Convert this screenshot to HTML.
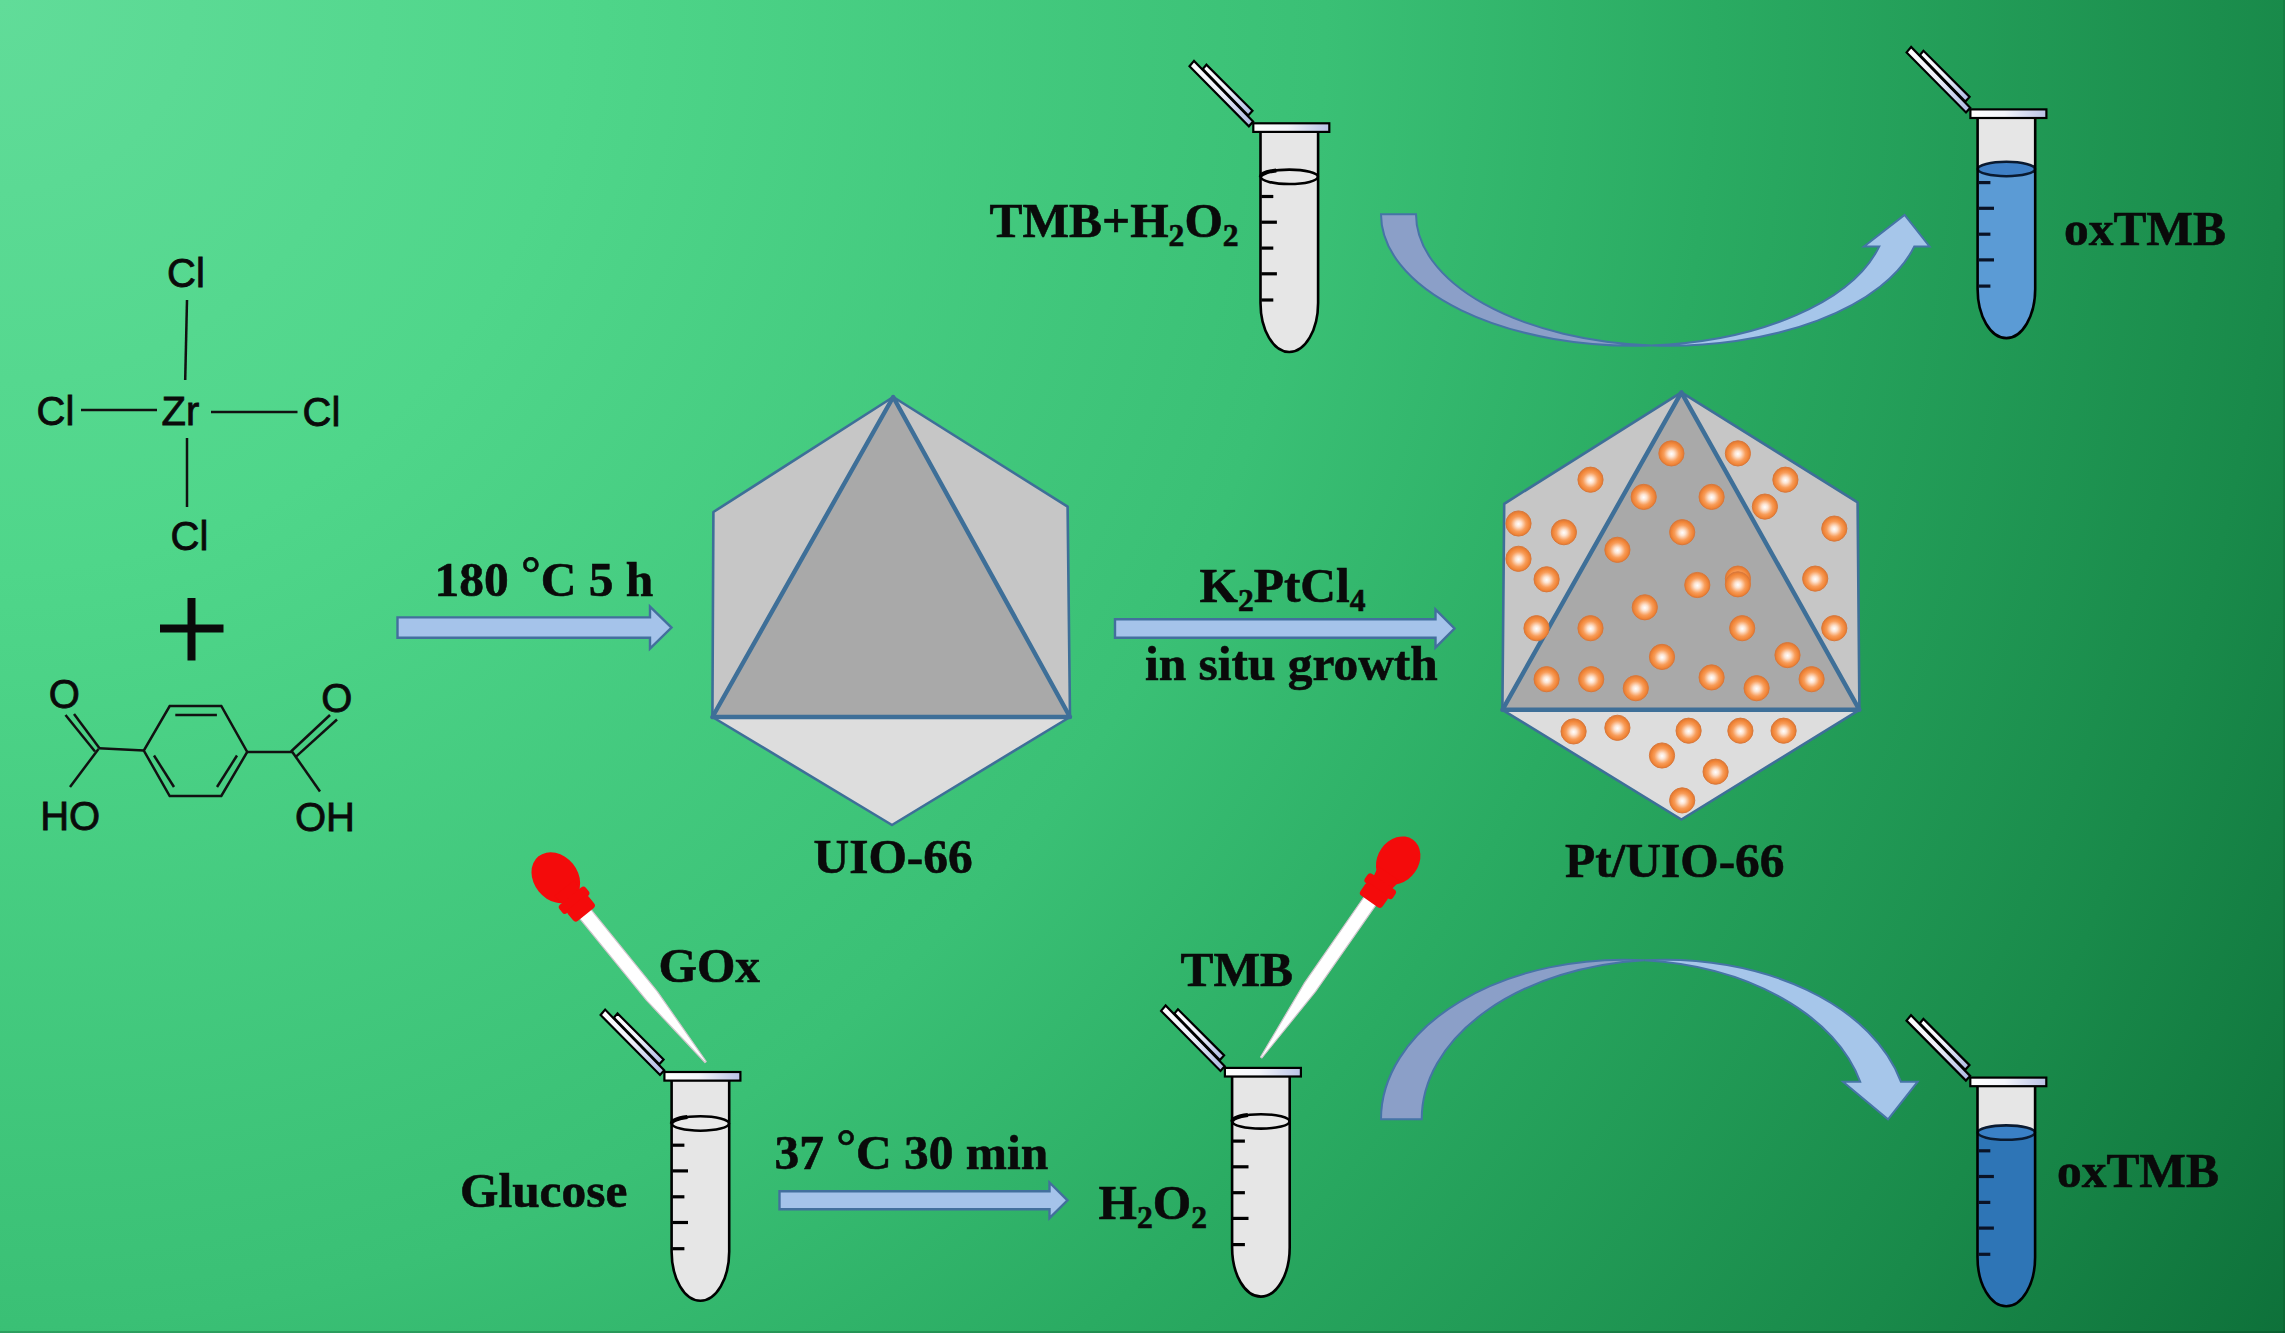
<!DOCTYPE html>
<html><head><meta charset="utf-8"><title>Pt/UIO-66 scheme</title>
<style>
html,body{margin:0;padding:0;background:#fff;}
body{width:2286px;height:1335px;overflow:hidden;position:relative;}
#bg{position:absolute;left:0;top:0;width:2285px;height:1332.5px;
background:radial-gradient(circle 2647px at 0 0,
 #61dc99 0px,#4fd68a 570px,#3ac075 1325px,#2aab62 1715px,#198a4a 2286px,#0e713a 2647px);}
svg{position:absolute;left:0;top:0;}
.sb{font-family:"Liberation Serif",serif;font-weight:bold;fill:#0a0a0a;stroke:#0a0a0a;stroke-width:0.6px;}
.ss{font-family:"Liberation Sans",sans-serif;fill:#0a0a0a;stroke:#0a0a0a;stroke-width:0.8px;}
</style></head><body>
<div id="bg"></div>
<div style="position:absolute;left:0;top:1331px;width:2285px;height:1.5px;background:rgba(0,40,20,0.22)"></div>
<div style="position:absolute;left:2283.2px;top:0;width:1.8px;height:1332.5px;background:rgba(0,40,20,0.12)"></div>
<svg width="2286" height="1335" viewBox="0 0 2286 1335">
<defs>
<radialGradient id="dot" cx="50%" cy="52%" r="50%">
 <stop offset="0" stop-color="#ffffff"/>
 <stop offset="0.24" stop-color="#fde4d2"/>
 <stop offset="0.6" stop-color="#f89d5a"/>
 <stop offset="0.86" stop-color="#f08436"/>
 <stop offset="1" stop-color="#de7a38"/>
</radialGradient>
<linearGradient id="rim" x1="0" y1="0" x2="1" y2="0">
 <stop offset="0" stop-color="#ffffff"/>
 <stop offset="0.45" stop-color="#f4f5fb"/>
 <stop offset="1" stop-color="#b9c2e6"/>
</linearGradient>
<linearGradient id="lid" x1="0" y1="0" x2="1" y2="1">
 <stop offset="0" stop-color="#ffffff"/>
 <stop offset="0.5" stop-color="#eef0fa"/>
 <stop offset="1" stop-color="#aab6e2"/>
</linearGradient>
</defs>
<text class="ss" x="186" y="287" font-size="40" text-anchor="middle">Cl</text>
<text class="ss" x="55.5" y="425" font-size="40" text-anchor="middle">Cl</text>
<text class="ss" x="180.5" y="425" font-size="40" text-anchor="middle">Zr</text>
<text class="ss" x="321.5" y="426" font-size="40" text-anchor="middle">Cl</text>
<text class="ss" x="189.5" y="550" font-size="40" text-anchor="middle">Cl</text>
<line x1="187" y1="300" x2="185.2" y2="380" stroke="#111" stroke-width="2.5" stroke-linecap="butt"/>
<line x1="81" y1="410" x2="157" y2="410" stroke="#111" stroke-width="2.5" stroke-linecap="butt"/>
<line x1="211" y1="412" x2="297.5" y2="412" stroke="#111" stroke-width="2.5" stroke-linecap="butt"/>
<line x1="187" y1="438" x2="187" y2="507" stroke="#111" stroke-width="2.5" stroke-linecap="butt"/>
<rect x="160" y="624.5" width="63.5" height="8" fill="#0a0a0a"/>
<rect x="187.5" y="598" width="8" height="62.5" fill="#0a0a0a"/>
<polygon points="169.7,706 221.3,706 247.2,752 221.3,796 169.7,796 143.8,750.6" fill="none" stroke="#111" stroke-width="2.5" stroke-linejoin="miter"/>
<line x1="175.3" y1="715" x2="216.9" y2="715" stroke="#111" stroke-width="2.5" stroke-linecap="butt"/>
<line x1="154" y1="755.5" x2="174" y2="787" stroke="#111" stroke-width="2.5" stroke-linecap="butt"/>
<line x1="237" y1="755.5" x2="217" y2="787" stroke="#111" stroke-width="2.5" stroke-linecap="butt"/>
<line x1="143.8" y1="750.6" x2="98.9" y2="748.3" stroke="#111" stroke-width="2.5" stroke-linecap="butt"/>
<line x1="99.5" y1="748.3" x2="74" y2="714" stroke="#111" stroke-width="2.5" stroke-linecap="butt"/>
<line x1="95" y1="751.5" x2="65.5" y2="715" stroke="#111" stroke-width="2.5" stroke-linecap="butt"/>
<line x1="98.5" y1="749" x2="70" y2="787" stroke="#111" stroke-width="2.5" stroke-linecap="butt"/>
<line x1="247.2" y1="752" x2="292.5" y2="752" stroke="#111" stroke-width="2.5" stroke-linecap="butt"/>
<line x1="291" y1="751.5" x2="330" y2="715" stroke="#111" stroke-width="2.5" stroke-linecap="butt"/>
<line x1="296" y1="756.6" x2="337" y2="719.5" stroke="#111" stroke-width="2.5" stroke-linecap="butt"/>
<line x1="292" y1="751.5" x2="320" y2="791.5" stroke="#111" stroke-width="2.5" stroke-linecap="butt"/>
<text class="ss" x="64.2" y="708" font-size="40" text-anchor="middle">O</text>
<text class="ss" x="336.8" y="711.5" font-size="40" text-anchor="middle">O</text>
<text class="ss" x="70.2" y="829.5" font-size="40" text-anchor="middle">HO</text>
<text class="ss" x="325" y="830.5" font-size="40" text-anchor="middle">OH</text>
<polygon points="397.5,617.4 650,617.4 650,606.6 671.5,627.6 650,648.6 650,637.8000000000001 397.5,637.8000000000001" fill="#a5c3ea" stroke="#436f9d" stroke-width="2.4" stroke-linejoin="miter"/>
<polygon points="1115,619.3 1435.5,619.3 1435.5,609.5 1454.5,628.5 1435.5,647.5 1435.5,637.7 1115,637.7" fill="#a5c3ea" stroke="#436f9d" stroke-width="2.4" stroke-linejoin="miter"/>
<polygon points="779.5,1191.3 1049.5,1191.3 1049.5,1182.5 1067.5,1200.3 1049.5,1218.1 1049.5,1209.3 779.5,1209.3" fill="#a5c3ea" stroke="#436f9d" stroke-width="2.4" stroke-linejoin="miter"/>
<text class="sb" x="434.6" y="595.8" font-size="49.4" text-anchor="start">180 <tspan dy="-6">°</tspan><tspan dy="6">C 5 h</tspan></text>
<text class="sb" x="813.5" y="873" font-size="49.4" text-anchor="start">UIO-66</text>
<text class="sb" x="1199.5" y="602" font-size="49.4" text-anchor="start">K<tspan font-size="31.6" dy="9">2</tspan><tspan dy="-9">PtCl</tspan><tspan font-size="31.6" dy="9">4</tspan></text>
<text class="sb" x="1145" y="680" font-size="49.4" text-anchor="start">in situ growth</text>
<text class="sb" x="1565" y="877" font-size="49.4" text-anchor="start">Pt/UIO-66</text>
<text class="sb" x="989.5" y="237" font-size="49.4" text-anchor="start">TMB+H<tspan font-size="31.6" dy="9">2</tspan><tspan dy="-9">O</tspan><tspan font-size="31.6" dy="9">2</tspan></text>
<text class="sb" x="2064" y="244.7" font-size="49.4" text-anchor="start">oxTMB</text>
<text class="sb" x="2057" y="1187" font-size="49.4" text-anchor="start">oxTMB</text>
<text class="sb" x="658.5" y="982" font-size="49.4" text-anchor="start">GOx</text>
<text class="sb" x="460" y="1207" font-size="49.4" text-anchor="start">Glucose</text>
<text class="sb" x="774.5" y="1168.5" font-size="49.4" text-anchor="start">37 <tspan dy="-6">°</tspan><tspan dy="6">C 30 min</tspan></text>
<text class="sb" x="1180.5" y="986" font-size="49.4" text-anchor="start">TMB</text>
<text class="sb" x="1098.5" y="1218.5" font-size="49.4" text-anchor="start">H<tspan font-size="31.6" dy="9">2</tspan><tspan dy="-9">O</tspan><tspan font-size="31.6" dy="9">2</tspan></text>
<polygon points="893.2,397 713.4,512 712.4,717" fill="#c6c6c6" stroke="#3e6f98" stroke-width="2.6" stroke-linejoin="round"/>
<polygon points="893.2,397 1067.6,506.6 1070,717" fill="#c6c6c6" stroke="#3e6f98" stroke-width="2.6" stroke-linejoin="round"/>
<polygon points="712.4,717 1070,717 892,825" fill="#dddddd" stroke="#3e6f98" stroke-width="2.6" stroke-linejoin="round"/>
<polygon points="893.2,397 712.4,717 1070,717" fill="#a9a9a9" stroke="#3e6f98" stroke-width="4.4" stroke-linejoin="round"/>
<polygon points="1681.4,392.3 1504.2,503.8 1502.4,709.8" fill="#c6c6c6" stroke="#3e6f98" stroke-width="2.6" stroke-linejoin="round"/>
<polygon points="1681.4,392.3 1857.6,502.3 1859.4,709.8" fill="#c6c6c6" stroke="#3e6f98" stroke-width="2.6" stroke-linejoin="round"/>
<polygon points="1502.4,709.8 1859.4,709.8 1681.4,819.5" fill="#dddddd" stroke="#3e6f98" stroke-width="2.6" stroke-linejoin="round"/>
<polygon points="1681.4,392.3 1502.4,709.8 1859.4,709.8" fill="#a9a9a9" stroke="#3e6f98" stroke-width="4.4" stroke-linejoin="round"/>
<circle cx="1671.4" cy="453.4" r="12.6" fill="url(#dot)" stroke="#d9783a" stroke-width="1"/>
<circle cx="1737.9" cy="453.4" r="12.6" fill="url(#dot)" stroke="#d9783a" stroke-width="1"/>
<circle cx="1590.5" cy="479.7" r="12.6" fill="url(#dot)" stroke="#d9783a" stroke-width="1"/>
<circle cx="1785.4" cy="479.7" r="12.6" fill="url(#dot)" stroke="#d9783a" stroke-width="1"/>
<circle cx="1643.7" cy="496.9" r="12.6" fill="url(#dot)" stroke="#d9783a" stroke-width="1"/>
<circle cx="1711.6" cy="496.9" r="12.6" fill="url(#dot)" stroke="#d9783a" stroke-width="1"/>
<circle cx="1764.9" cy="506.6" r="12.6" fill="url(#dot)" stroke="#d9783a" stroke-width="1"/>
<circle cx="1518.5" cy="523.5" r="12.6" fill="url(#dot)" stroke="#d9783a" stroke-width="1"/>
<circle cx="1563.9" cy="532.2" r="12.6" fill="url(#dot)" stroke="#d9783a" stroke-width="1"/>
<circle cx="1682.2" cy="532.2" r="12.6" fill="url(#dot)" stroke="#d9783a" stroke-width="1"/>
<circle cx="1834.3" cy="528.6" r="12.6" fill="url(#dot)" stroke="#d9783a" stroke-width="1"/>
<circle cx="1617.4" cy="549.8" r="12.6" fill="url(#dot)" stroke="#d9783a" stroke-width="1"/>
<circle cx="1518.5" cy="558.8" r="12.6" fill="url(#dot)" stroke="#d9783a" stroke-width="1"/>
<circle cx="1546.6" cy="579.3" r="12.6" fill="url(#dot)" stroke="#d9783a" stroke-width="1"/>
<circle cx="1697.3" cy="585.0" r="12.6" fill="url(#dot)" stroke="#d9783a" stroke-width="1"/>
<circle cx="1737.9" cy="578.6" r="12.6" fill="url(#dot)" stroke="#d9783a" stroke-width="1"/>
<circle cx="1737.9" cy="584.3" r="12.6" fill="url(#dot)" stroke="#d9783a" stroke-width="1"/>
<circle cx="1815.2" cy="578.6" r="12.6" fill="url(#dot)" stroke="#d9783a" stroke-width="1"/>
<circle cx="1644.8" cy="607.3" r="12.6" fill="url(#dot)" stroke="#d9783a" stroke-width="1"/>
<circle cx="1536.5" cy="628.2" r="12.6" fill="url(#dot)" stroke="#d9783a" stroke-width="1"/>
<circle cx="1590.5" cy="628.2" r="12.6" fill="url(#dot)" stroke="#d9783a" stroke-width="1"/>
<circle cx="1742.2" cy="628.2" r="12.6" fill="url(#dot)" stroke="#d9783a" stroke-width="1"/>
<circle cx="1834.3" cy="628.2" r="12.6" fill="url(#dot)" stroke="#d9783a" stroke-width="1"/>
<circle cx="1662.0" cy="656.9" r="12.6" fill="url(#dot)" stroke="#d9783a" stroke-width="1"/>
<circle cx="1787.5" cy="655.1" r="12.6" fill="url(#dot)" stroke="#d9783a" stroke-width="1"/>
<circle cx="1546.6" cy="679.2" r="12.6" fill="url(#dot)" stroke="#d9783a" stroke-width="1"/>
<circle cx="1591.2" cy="679.2" r="12.6" fill="url(#dot)" stroke="#d9783a" stroke-width="1"/>
<circle cx="1635.8" cy="688.2" r="12.6" fill="url(#dot)" stroke="#d9783a" stroke-width="1"/>
<circle cx="1711.6" cy="677.4" r="12.6" fill="url(#dot)" stroke="#d9783a" stroke-width="1"/>
<circle cx="1756.6" cy="688.2" r="12.6" fill="url(#dot)" stroke="#d9783a" stroke-width="1"/>
<circle cx="1811.6" cy="679.2" r="12.6" fill="url(#dot)" stroke="#d9783a" stroke-width="1"/>
<circle cx="1573.6" cy="731.4" r="12.6" fill="url(#dot)" stroke="#d9783a" stroke-width="1"/>
<circle cx="1617.4" cy="727.8" r="12.6" fill="url(#dot)" stroke="#d9783a" stroke-width="1"/>
<circle cx="1688.6" cy="730.7" r="12.6" fill="url(#dot)" stroke="#d9783a" stroke-width="1"/>
<circle cx="1740.4" cy="730.7" r="12.6" fill="url(#dot)" stroke="#d9783a" stroke-width="1"/>
<circle cx="1783.6" cy="730.7" r="12.6" fill="url(#dot)" stroke="#d9783a" stroke-width="1"/>
<circle cx="1662.0" cy="755.5" r="12.6" fill="url(#dot)" stroke="#d9783a" stroke-width="1"/>
<circle cx="1715.6" cy="771.7" r="12.6" fill="url(#dot)" stroke="#d9783a" stroke-width="1"/>
<circle cx="1682.2" cy="800.4" r="12.6" fill="url(#dot)" stroke="#d9783a" stroke-width="1"/>
<g transform="translate(1252.3,122.3)">
<polygon points="-58.3,-61.4 -62.8,-56 -3.4,4 0.8,-0.7" fill="url(#lid)" stroke="#000" stroke-width="2.2" stroke-linejoin="miter"/>
<polygon points="-45.9,-57.6 -49.5,-53.3 -4.1,-6.8 0.2,-11.5" fill="url(#lid)" stroke="#000" stroke-width="2.2" stroke-linejoin="miter"/>
<path d="M8.2,9 L8.2,180.7 A28.8,49 0 0 0 65.8,180.7 L65.8,9 Z" fill="#e6e6e6" stroke="none"/>
<ellipse cx="37" cy="54.5" rx="28.6" ry="7.2" fill="#e9e9e9" stroke="#000" stroke-width="2.6"/>
<path d="M8.4,54.5 A28.6,7.2 0 0 1 24,48.1" fill="none" stroke="#000" stroke-width="4"/>
<path d="M8.2,9 L8.2,180.7 A28.8,49 0 0 0 65.8,180.7 L65.8,9 Z" fill="none" stroke="#000" stroke-width="2.6"/>
<line x1="9" y1="74.2" x2="21" y2="74.2" stroke="#000" stroke-width="3.2"/>
<line x1="9" y1="99.9" x2="24.6" y2="99.9" stroke="#000" stroke-width="3.2"/>
<line x1="9" y1="125.8" x2="21" y2="125.8" stroke="#000" stroke-width="3.2"/>
<line x1="9" y1="151.5" x2="24.6" y2="151.5" stroke="#000" stroke-width="3.2"/>
<line x1="9" y1="177.7" x2="21" y2="177.7" stroke="#000" stroke-width="3.2"/>
<rect x="1" y="1" width="76" height="8.6" fill="url(#rim)" stroke="#000" stroke-width="2.2"/>
</g>
<g transform="translate(1969.4,108.4)">
<polygon points="-58.3,-61.4 -62.8,-56 -3.4,4 0.8,-0.7" fill="url(#lid)" stroke="#000" stroke-width="2.2" stroke-linejoin="miter"/>
<polygon points="-45.9,-57.6 -49.5,-53.3 -4.1,-6.8 0.2,-11.5" fill="url(#lid)" stroke="#000" stroke-width="2.2" stroke-linejoin="miter"/>
<path d="M8.2,9 L8.2,180.7 A28.8,49 0 0 0 65.8,180.7 L65.8,9 Z" fill="#e6e6e6" stroke="none"/>
<path d="M8.2,60.6 L8.2,180.7 A28.8,49 0 0 0 65.8,180.7 L65.8,60.6 Z" fill="#5b9bd5"/>
<ellipse cx="37" cy="60.6" rx="28.6" ry="7.2" fill="#3f80c6" stroke="#0a1a30" stroke-width="2.6"/>
<path d="M8.2,9 L8.2,180.7 A28.8,49 0 0 0 65.8,180.7 L65.8,9 Z" fill="none" stroke="#000" stroke-width="2.6"/>
<line x1="9" y1="74.2" x2="21" y2="74.2" stroke="#0a1326" stroke-width="3.2"/>
<line x1="9" y1="99.9" x2="24.6" y2="99.9" stroke="#0a1326" stroke-width="3.2"/>
<line x1="9" y1="125.8" x2="21" y2="125.8" stroke="#0a1326" stroke-width="3.2"/>
<line x1="9" y1="151.5" x2="24.6" y2="151.5" stroke="#0a1326" stroke-width="3.2"/>
<line x1="9" y1="177.7" x2="21" y2="177.7" stroke="#0a1326" stroke-width="3.2"/>
<rect x="1" y="1" width="76" height="8.6" fill="url(#rim)" stroke="#000" stroke-width="2.2"/>
</g>
<g transform="translate(663.4,1071)">
<polygon points="-58.3,-61.4 -62.8,-56 -3.4,4 0.8,-0.7" fill="url(#lid)" stroke="#000" stroke-width="2.2" stroke-linejoin="miter"/>
<polygon points="-45.9,-57.6 -49.5,-53.3 -4.1,-6.8 0.2,-11.5" fill="url(#lid)" stroke="#000" stroke-width="2.2" stroke-linejoin="miter"/>
<path d="M8.2,9 L8.2,180.7 A28.8,49 0 0 0 65.8,180.7 L65.8,9 Z" fill="#e6e6e6" stroke="none"/>
<ellipse cx="37" cy="52.5" rx="28.6" ry="7.2" fill="#e9e9e9" stroke="#000" stroke-width="2.6"/>
<path d="M8.4,52.5 A28.6,7.2 0 0 1 24,46.1" fill="none" stroke="#000" stroke-width="4"/>
<path d="M8.2,9 L8.2,180.7 A28.8,49 0 0 0 65.8,180.7 L65.8,9 Z" fill="none" stroke="#000" stroke-width="2.6"/>
<line x1="9" y1="74.2" x2="21" y2="74.2" stroke="#000" stroke-width="3.2"/>
<line x1="9" y1="99.9" x2="24.6" y2="99.9" stroke="#000" stroke-width="3.2"/>
<line x1="9" y1="125.8" x2="21" y2="125.8" stroke="#000" stroke-width="3.2"/>
<line x1="9" y1="151.5" x2="24.6" y2="151.5" stroke="#000" stroke-width="3.2"/>
<line x1="9" y1="177.7" x2="21" y2="177.7" stroke="#000" stroke-width="3.2"/>
<rect x="1" y="1" width="76" height="8.6" fill="url(#rim)" stroke="#000" stroke-width="2.2"/>
</g>
<g transform="translate(1223.9,1066.9)">
<polygon points="-58.3,-61.4 -62.8,-56 -3.4,4 0.8,-0.7" fill="url(#lid)" stroke="#000" stroke-width="2.2" stroke-linejoin="miter"/>
<polygon points="-45.9,-57.6 -49.5,-53.3 -4.1,-6.8 0.2,-11.5" fill="url(#lid)" stroke="#000" stroke-width="2.2" stroke-linejoin="miter"/>
<path d="M8.2,9 L8.2,180.7 A28.8,49 0 0 0 65.8,180.7 L65.8,9 Z" fill="#e6e6e6" stroke="none"/>
<ellipse cx="37" cy="54.5" rx="28.6" ry="7.2" fill="#e9e9e9" stroke="#000" stroke-width="2.6"/>
<path d="M8.4,54.5 A28.6,7.2 0 0 1 24,48.1" fill="none" stroke="#000" stroke-width="4"/>
<path d="M8.2,9 L8.2,180.7 A28.8,49 0 0 0 65.8,180.7 L65.8,9 Z" fill="none" stroke="#000" stroke-width="2.6"/>
<line x1="9" y1="74.2" x2="21" y2="74.2" stroke="#000" stroke-width="3.2"/>
<line x1="9" y1="99.9" x2="24.6" y2="99.9" stroke="#000" stroke-width="3.2"/>
<line x1="9" y1="125.8" x2="21" y2="125.8" stroke="#000" stroke-width="3.2"/>
<line x1="9" y1="151.5" x2="24.6" y2="151.5" stroke="#000" stroke-width="3.2"/>
<line x1="9" y1="177.7" x2="21" y2="177.7" stroke="#000" stroke-width="3.2"/>
<rect x="1" y="1" width="76" height="8.6" fill="url(#rim)" stroke="#000" stroke-width="2.2"/>
</g>
<g transform="translate(1969.3,1076.6)">
<polygon points="-58.3,-61.4 -62.8,-56 -3.4,4 0.8,-0.7" fill="url(#lid)" stroke="#000" stroke-width="2.2" stroke-linejoin="miter"/>
<polygon points="-45.9,-57.6 -49.5,-53.3 -4.1,-6.8 0.2,-11.5" fill="url(#lid)" stroke="#000" stroke-width="2.2" stroke-linejoin="miter"/>
<path d="M8.2,9 L8.2,180.7 A28.8,49 0 0 0 65.8,180.7 L65.8,9 Z" fill="#e6e6e6" stroke="none"/>
<path d="M8.2,56 L8.2,180.7 A28.8,49 0 0 0 65.8,180.7 L65.8,56 Z" fill="#2e75b6"/>
<ellipse cx="37" cy="56" rx="28.6" ry="7.2" fill="#3a80c6" stroke="#0a1a30" stroke-width="2.6"/>
<path d="M8.2,9 L8.2,180.7 A28.8,49 0 0 0 65.8,180.7 L65.8,9 Z" fill="none" stroke="#000" stroke-width="2.6"/>
<line x1="9" y1="74.2" x2="21" y2="74.2" stroke="#0a1326" stroke-width="3.2"/>
<line x1="9" y1="99.9" x2="24.6" y2="99.9" stroke="#0a1326" stroke-width="3.2"/>
<line x1="9" y1="125.8" x2="21" y2="125.8" stroke="#0a1326" stroke-width="3.2"/>
<line x1="9" y1="151.5" x2="24.6" y2="151.5" stroke="#0a1326" stroke-width="3.2"/>
<line x1="9" y1="177.7" x2="21" y2="177.7" stroke="#0a1326" stroke-width="3.2"/>
<rect x="1" y="1" width="76" height="8.6" fill="url(#rim)" stroke="#000" stroke-width="2.2"/>
</g>
<g transform="translate(705.6,1062) rotate(-39.1) scale(1)">
<polygon points="-0.8,0 0.8,0 7,-85 7.2,-192 -7.2,-192 -7,-85" fill="#ffffff" stroke="#cfc6cc" stroke-width="1.2" stroke-linejoin="round"/>
<ellipse cx="0" cy="-237.5" rx="22" ry="27.5" fill="#f40b0b"/>
<polygon points="-13,-224 13,-224 10,-206 -10,-206" fill="#f40b0b"/>
<rect x="-17" y="-214" width="34" height="11" rx="3.5" fill="#f40b0b"/>
<rect x="-13.5" y="-205" width="27" height="15" rx="3.5" fill="#f40b0b"/>
</g>
<g transform="translate(1261.2,1057.5) rotate(34.8) scale(1)">
<polygon points="-0.8,0 0.8,0 7,-85 7.2,-192 -7.2,-192 -7,-85" fill="#ffffff" stroke="#cfc6cc" stroke-width="1.2" stroke-linejoin="round"/>
<ellipse cx="0" cy="-240" rx="20.5" ry="25.5" fill="#f40b0b"/>
<polygon points="-13,-224 13,-224 10,-206 -10,-206" fill="#f40b0b"/>
<rect x="-17" y="-214" width="34" height="11" rx="3.5" fill="#f40b0b"/>
<rect x="-13.5" y="-205" width="27" height="15" rx="3.5" fill="#f40b0b"/>
</g>
<path d="M1381,214.2 A253,131.5 0 0 0 1651.50,345.39 A253,131.5 0 0 1 1416,214.2 Z" fill="#8b9fc8" stroke="#4674a6" stroke-width="2" stroke-linejoin="miter"/>
<path d="M1651.50,345.39 A253,131.5 0 0 0 1914.30,246.4 L1929.5,246.4 L1904.6,215 L1864,246.4 L1879.30,246.4 A253,131.5 0 0 1 1651.50,345.39 Z" fill="#a6c6ea" stroke="#4674a6" stroke-width="2" stroke-linejoin="miter"/>
<path d="M1381,1119.3 A243,159.6 0 0 1 1644.35,960.26 A243,159.6 0 0 0 1421.7,1119.3 Z" fill="#8b9fc8" stroke="#4674a6" stroke-width="2" stroke-linejoin="miter"/>
<path d="M1644.35,960.26 A243,159.6 0 0 1 1900.86,1081.7 L1917.7,1081.7 L1888,1119.3 L1843,1081.7 L1860.16,1081.7 A243,159.6 0 0 0 1644.35,960.26 Z" fill="#a6c6ea" stroke="#4674a6" stroke-width="2" stroke-linejoin="miter"/>
</svg></body></html>
